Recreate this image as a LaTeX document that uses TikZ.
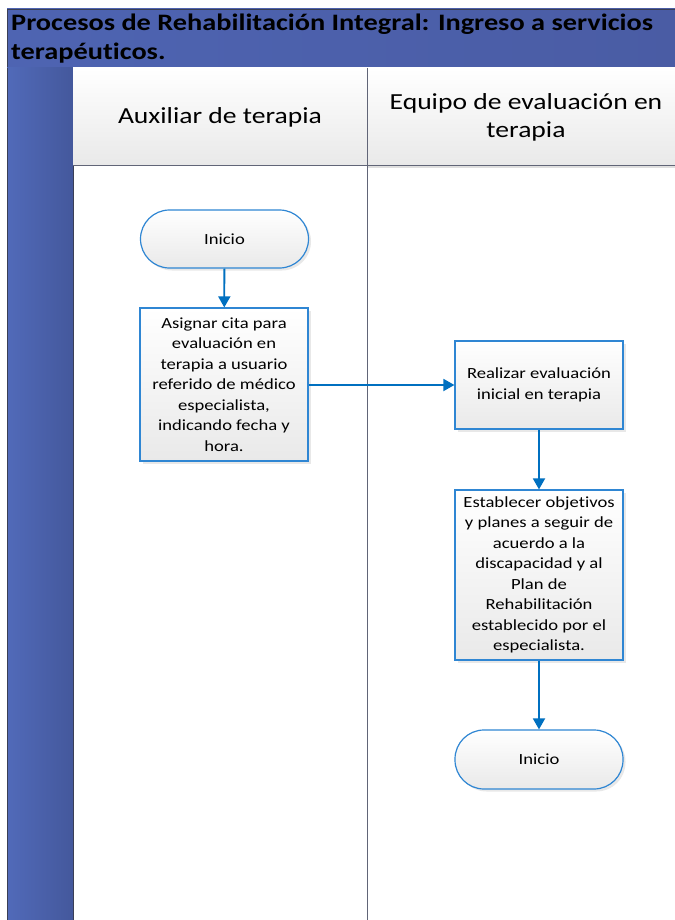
\documentclass[tikz,border=0pt]{standalone}
\usepackage{fontspec}
\setmainfont{Carlito}[FakeStretch=1.2, Ligatures=NoCommon]
\usetikzlibrary{arrows.meta,shadows}
\definecolor{titleleft}{HTML}{4E64B2}
\definecolor{titleright}{HTML}{4A5CA4}
\definecolor{bandleft}{HTML}{516AB9}
\definecolor{bandright}{HTML}{44589C}
\definecolor{laneedge}{HTML}{3A3F55}
\definecolor{flowblue}{HTML}{0070C0}
\definecolor{boxedge}{HTML}{2F86D3}
\definecolor{cellgray}{HTML}{E9E9E9}
\begin{document}
\begin{tikzpicture}[x=1pt,y=-1pt,
  boxshade/.style={top color=white, bottom color=cellgray},
  procbox/.style={draw=boxedge, line width=1.2pt, boxshade,
    minimum width=168pt, align=center,
    font=\fontsize{15.5}{20.5}\selectfont,
    drop shadow={shadow xshift=2.5pt, shadow yshift=-2.5pt, opacity=0.18, fill=gray}},
  termbox/.style={procbox, rounded corners=29pt, minimum height=58pt},
  flow/.style={draw=flowblue, line width=1.8pt, -{Triangle[length=11pt,width=12pt]}},
  cell/.style={draw=laneedge!80, line width=0.8pt}]
\useasboundingbox (0,0) rectangle (674,920);
\fill[white] (0,0) rectangle (674,920);
% pool title bar
\shade[left color=titleleft, right color=titleright] (7,9) rectangle (680,68);
\draw[laneedge, line width=0.8pt] (680,9) -- (7,9) -- (7,68) -- (680,68);
\node[anchor=north west, align=left,
  font=\bfseries\fontsize{23.6}{29}\selectfont, inner sep=0pt] (title) at (11,14)
  {Procesos de Rehabilitación Integral: Ingreso a servicios\\terapéuticos.};
% left side band
\shade[left color=bandleft, right color=bandright] (7,68) rectangle (73,925);
\draw[laneedge, line width=0.8pt] (7,68) -- (7,925) (73,68) -- (73,925);
% lane headers
\shade[top color=white, bottom color=cellgray] (73,68) rectangle (367,165);
\shade[top color=white, bottom color=cellgray] (367,68) rectangle (680,165);
\fill[gray!25] (367,165) rectangle (680,168);
\draw[cell] (73,165) -- (680,165);
\draw[cell] (367,68) -- (367,925);
\node[font=\fontsize{23}{28}\selectfont] (lane1) at (220,117) {Auxiliar de terapia};
\node[font=\fontsize{23}{28}\selectfont, align=center] (lane2) at (526,117)
  {Equipo de evaluación en\\terapia};
% flow nodes
\node[termbox] (start) at (224.5,239) {Inicio};
\node[procbox, minimum height=153pt] (assign) at (224,384.5)
  {Asignar cita para\\evaluación en\\terapia a usuario\\referido de médico\\especialista,\\indicando fecha y\\hora.};
\node[procbox, minimum height=88pt] (eval) at (539,385)
  {Realizar evaluación\\inicial en terapia};
\node[procbox, minimum height=170pt] (goals) at (539,575)
  {Establecer objetivos\\y planes a seguir de\\acuerdo a la\\discapacidad y al\\Plan de\\Rehabilitación\\establecido por el\\especialista.};
\node[termbox, minimum height=59pt] (end) at (539,759.5) {Inicio};
% connectors
\draw[flow] (start) -- (assign);
\draw[flow] (assign.east |- eval.west) -- (eval.west);
\draw[flow] (eval) -- (goals);
\draw[flow] (goals) -- (end);
\end{tikzpicture}
\end{document}
